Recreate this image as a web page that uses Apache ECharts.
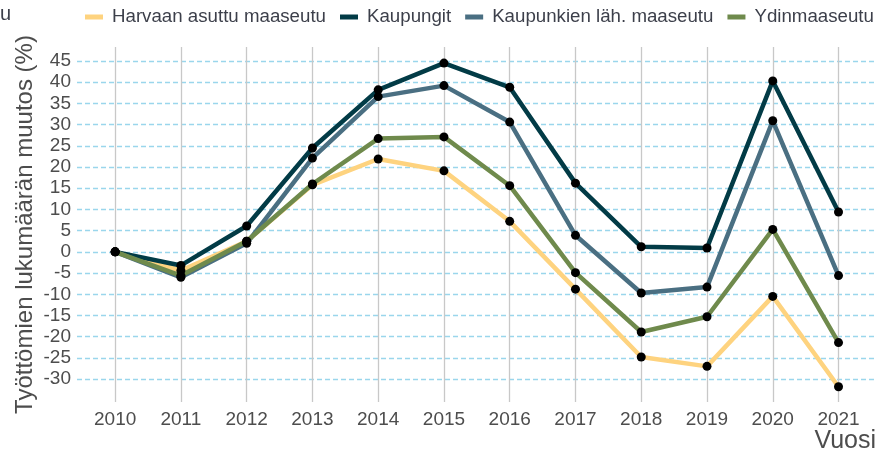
<!DOCTYPE html>
<html>
<head>
<meta charset="utf-8">
<script src="https://cdn.jsdelivr.net/npm/echarts@6/dist/echarts.min.js"></script>
<style>
  html, body { margin: 0; padding: 0; background: #fff; }
  #chart { width: 887px; height: 460px; }
</style>
</head>
<body>
<div id="chart"></div>
<script>
// vuodet ja muutos (%) vuodesta 2010
const years = [2010, 2011, 2012, 2013, 2014, 2015, 2016, 2017, 2018, 2019, 2020, 2021]
const yTicks = [-30, -25, -20, -15, -10, -5, 0, 5, 10, 15, 20, 25, 30, 35, 40, 45]

const harvaan = [0, -4.4, 2.5, 15.8, 21.9, 19.1, 7.2, -8.8, -24.8, -27.0, -10.5, -31.8]
const kaupungit = [0, -3.2, 6.1, 24.5, 38.2, 44.5, 38.8, 16.2, 1.2, 0.9, 40.3, 9.4]
const kaupunkienLah = [0, -6.0, 2.0, 22.1, 36.6, 39.2, 30.6, 3.9, -9.7, -8.3, 30.9, -5.6]
const ydinmaaseutu = [0, -5.6, 2.5, 16.0, 26.7, 27.1, 15.6, -4.9, -18.9, -15.3, 5.3, -21.4]

const seriesNames = ['Harvaan asuttu maaseutu', 'Kaupungit', 'Kaupunkien läh. maaseutu', 'Ydinmaaseutu']
const seriesColors = ['#fed37f', '#023b46', '#4a6f82', '#6f8a4c']
const seriesValues = [harvaan, kaupungit, kaupunkienLah, ydinmaaseutu]

const chart = echarts.init(document.getElementById('chart'), null, { renderer: 'canvas' })

const toPairs = (vals) => years.map((y, i) => [y, vals[i]])

const lineSeries = seriesNames.map((name, i) => ({
  name: name,
  type: 'line',
  data: toPairs(seriesValues[i]),
  showSymbol: false,
  lineStyle: { color: seriesColors[i], width: 4.5 },
  itemStyle: { color: seriesColors[i] },
  z: 2
}))

// pisteet kaikkien viivojen päälle
const pointSeries = seriesValues.map((vals, i) => ({
  name: 'p' + i,
  type: 'scatter',
  data: toPairs(vals),
  symbol: 'circle',
  symbolSize: 9,
  itemStyle: { color: '#000', opacity: 1 },
  z: 3
}))

chart.setOption({
  animation: false,
  textStyle: { fontFamily: 'Liberation Sans, Arial, sans-serif' },
  legend: {
    data: seriesNames,
    left: 80,
    top: 1,
    itemWidth: 18,
    itemHeight: 5,
    itemGap: 14,
    icon: 'rect',
    textStyle: { fontSize: 18.7, color: '#3c3f4a', padding: [0, 0, 0, 4], lineHeight: 22 }
  },
  graphic: [{
    type: 'text',
    left: 0,
    top: 4,
    style: { text: 'u', fontSize: 20, fill: '#3c3f4a', fontFamily: 'Liberation Sans, Arial, sans-serif' }
  }],
  grid: { left: 77, right: 11, top: 47, bottom: 58, containLabel: false },
  xAxis: {
    type: 'value',
    min: 2009.42,
    max: 2021.57,
    name: 'Vuosi',
    nameLocation: 'end',
    nameGap: 0,
    nameTextStyle: { fontSize: 25, color: '#4d4d4d', align: 'right', verticalAlign: 'top', padding: [27, 0, 0, 0] },
    axisLine: { show: false, onZero: false },
    axisTick: { show: false, customValues: years },
    axisLabel: { customValues: years, fontSize: 19, color: '#4d4d4d', margin: 8, formatter: (v) => String(v) },
    splitLine: { show: true, lineStyle: { color: '#c8c8c8', width: 1.3 } }
  },
  yAxis: {
    type: 'value',
    min: -35.4,
    max: 48.3,
    name: 'Työttömien lukumäärän muutos (%)',
    nameLocation: 'middle',
    nameGap: 40,
    nameMoveOverlap: false,
    nameTextStyle: { fontSize: 24, color: '#4d4d4d' },
    axisLine: { show: false },
    axisTick: { show: false, customValues: yTicks },
    axisLabel: { customValues: yTicks, fontSize: 19, color: '#4d4d4d', margin: 6 },
    splitLine: { show: true, lineStyle: { color: '#9ad6ec', width: 1.3, type: [5, 3] } }
  },
  series: lineSeries.concat(pointSeries)
})
</script>
</body>
</html>
